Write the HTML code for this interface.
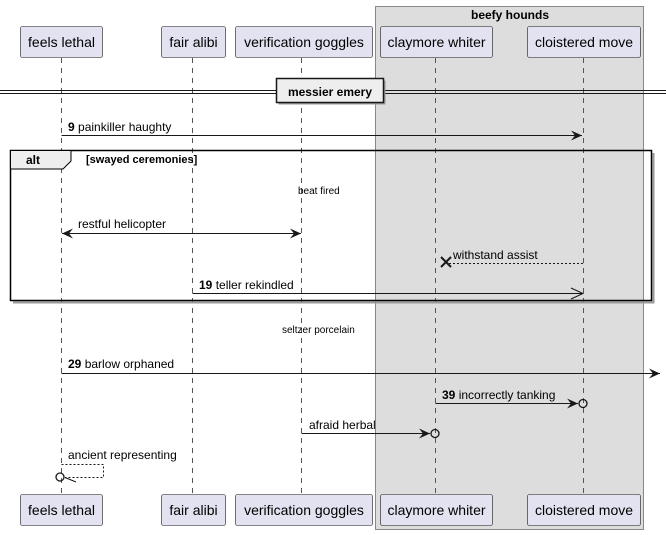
<!DOCTYPE html>
<html><head><meta charset="utf-8"><style>
html,body{margin:0;padding:0;background:#fff;}
svg{display:block;font-family:"Liberation Sans",sans-serif;}
</style></head><body>
<svg width="666" height="535" viewBox="0 0 666 535" xmlns="http://www.w3.org/2000/svg">
<defs>
<marker id="a" markerWidth="12" markerHeight="10" refX="11" refY="5" orient="auto" markerUnits="userSpaceOnUse"><path d="M0,0 L11,5 L0,10 L4,5 Z" fill="#181818"/></marker>
<marker id="as" markerWidth="12" markerHeight="10" refX="11" refY="5" orient="auto-start-reverse" markerUnits="userSpaceOnUse"><path d="M0,0 L11,5 L0,10 L4,5 Z" fill="#181818"/></marker>
</defs>
<rect x="375.5" y="6.5" width="268" height="523" fill="#ddd" stroke="#888"/>
<text x="510" y="19" font-size="12" font-weight="bold" text-anchor="middle" fill="#000">beefy hounds</text>
<g stroke="#555" stroke-dasharray="5,5" stroke-width="1">
<line x1="61.5" y1="58" x2="61.5" y2="494"/>
<line x1="192.5" y1="58" x2="192.5" y2="494"/>
<line x1="301.5" y1="58" x2="301.5" y2="494"/>
<line x1="435.5" y1="58" x2="435.5" y2="494"/>
<line x1="583.5" y1="58" x2="583.5" y2="494"/>
</g>
<g fill="#e2e2f0" stroke="#181818" stroke-width="0.6">
<rect x="20.5" y="26.5" width="82" height="31" rx="2"/>
<rect x="161.5" y="26.5" width="64" height="31" rx="2"/>
<rect x="235.5" y="26.5" width="137" height="31" rx="2"/>
<rect x="380.5" y="26.5" width="112" height="31" rx="2"/>
<rect x="527.5" y="26.5" width="113" height="31" rx="2"/>
<rect x="20.5" y="494.5" width="82" height="31" rx="2"/>
<rect x="161.5" y="494.5" width="64" height="31" rx="2"/>
<rect x="235.5" y="494.5" width="137" height="31" rx="2"/>
<rect x="380.5" y="494.5" width="112" height="31" rx="2"/>
<rect x="527.5" y="494.5" width="113" height="31" rx="2"/>
</g>
<g font-size="14" fill="#000" text-anchor="middle" textLength="">
<text x="61.5" y="47">feels lethal</text><text x="193.5" y="47">fair alibi</text><text x="304" y="47">verification goggles</text><text x="436.5" y="47">claymore whiter</text><text x="584" y="47">cloistered move</text>
<text x="61.5" y="515">feels lethal</text><text x="193.5" y="515">fair alibi</text><text x="304" y="515">verification goggles</text><text x="436.5" y="515">claymore whiter</text><text x="584" y="515">cloistered move</text>
</g>
<line x1="0" y1="90.5" x2="666" y2="90.5" stroke="#181818"/>
<line x1="0" y1="93.5" x2="666" y2="93.5" stroke="#181818"/>
<rect x="278.5" y="80.5" width="107" height="24" fill="#999" stroke="none"/>
<rect x="276.5" y="78.5" width="107" height="24" fill="#eee" stroke="#181818" stroke-width="1.5"/>
<text x="330" y="96" font-size="12" font-weight="bold" text-anchor="middle">messier emery</text>
<line x1="61.5" y1="135.5" x2="582" y2="135.5" stroke="#181818" marker-end="url(#a)"/>
<text x="68" y="131" font-size="12"><tspan font-weight="bold">9</tspan> painkiller haughty</text>
<path d="M13,302.5 H653.5 V153" fill="none" stroke="#999" stroke-width="2"/>
<rect x="10.5" y="150.5" width="641" height="150" fill="none" stroke="#000" stroke-width="1.5"/>
<path d="M10.5,150.5 H71 V161 L63,169 H10.5 Z" fill="#eee" stroke="#000" stroke-width="1"/>
<text x="26" y="164" font-size="12" font-weight="bold">alt</text>
<text x="86" y="163" font-size="11" font-weight="bold">[swayed ceremonies]</text>
<text x="298" y="194" font-size="10">beat fired</text>
<line x1="62" y1="233.5" x2="301" y2="233.5" stroke="#181818" marker-start="url(#as)" marker-end="url(#a)"/>
<text x="78" y="228" font-size="12">restful helicopter</text>
<line x1="583" y1="263.5" x2="449" y2="263.5" stroke="#181818" stroke-dasharray="2,2"/>
<path d="M441,257 L451,267 M441,267 L451,257" stroke="#181818" stroke-width="2"/>
<text x="453" y="259" font-size="12">withstand assist</text>
<line x1="192.5" y1="293.5" x2="583" y2="293.5" stroke="#181818"/>
<path d="M571,288 L583,293.5 L571,299" fill="none" stroke="#181818"/>
<text x="199" y="289" font-size="12"><tspan font-weight="bold">19</tspan> teller rekindled</text>
<text x="282" y="333" font-size="10">seltzer porcelain</text>
<line x1="61.5" y1="373.5" x2="660" y2="373.5" stroke="#181818" marker-end="url(#a)"/>
<text x="68" y="368" font-size="12"><tspan font-weight="bold">29</tspan> barlow orphaned</text>
<line x1="435.5" y1="403.5" x2="578" y2="403.5" stroke="#181818" marker-end="url(#a)"/>
<circle cx="583" cy="403.5" r="4" fill="none" stroke="#181818" stroke-width="1.3"/>
<text x="442" y="399" font-size="12"><tspan font-weight="bold">39</tspan> incorrectly tanking</text>
<line x1="301.5" y1="433.5" x2="430" y2="433.5" stroke="#181818" marker-end="url(#a)"/>
<circle cx="435" cy="433.5" r="4" fill="none" stroke="#181818" stroke-width="1.3"/>
<text x="309" y="429" font-size="12">afraid herbal</text>
<path d="M61.5,464.5 H103.5 V477.5 H65" fill="none" stroke="#181818" stroke-dasharray="2,2"/>
<circle cx="60" cy="477" r="4" fill="none" stroke="#181818" stroke-width="1.3"/>
<line x1="65" y1="477.5" x2="76" y2="482" stroke="#181818"/>
<text x="68" y="459" font-size="12">ancient representing</text>
</svg>
</body></html>
